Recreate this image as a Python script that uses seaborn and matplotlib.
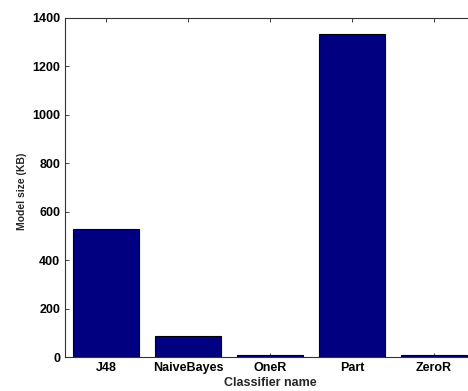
import matplotlib
matplotlib.use("Agg")
import matplotlib.pyplot as plt
import seaborn as sns
import pandas as pd

classifiers = ["J48", "NaiveBayes", "OneR", "Part", "ZeroR"]
model_size_kb = [527, 88, 10, 1335, 9]
y_ticks = [0, 200, 400, 600, 800, 1000, 1200, 1400]

sns.set_style("white")
plt.rcParams["font.family"] = ["Liberation Sans", "DejaVu Sans"]
plt.rcParams["font.weight"] = "bold"

df = pd.DataFrame({"Classifier": classifiers, "Size": model_size_kb})

fig = plt.figure(figsize=(4.68, 3.91), dpi=100)
ax = fig.add_axes([65 / 468, 1 - 357 / 391, 410 / 468, 339 / 391])

sns.barplot(data=df, x="Classifier", y="Size", ax=ax, color="#000080",
            saturation=1, width=0.8, edgecolor="black", linewidth=0.8)

ax.set_xlim(-0.5, 4.5)
ax.set_ylim(0, 1400)
ax.set_yticks(y_ticks)
ax.set_yticklabels([str(v) for v in y_ticks])

ax.tick_params(axis="both", direction="in", length=3, width=0.6,
               labelsize=9, colors="#222222", top=True, right=False, left=True, bottom=True)
for lbl in ax.get_xticklabels() + ax.get_yticklabels():
    lbl.set_fontweight("bold")
    lbl.set_color("black")

for side in ["left", "bottom", "top"]:
    ax.spines[side].set_visible(True)
    ax.spines[side].set_color("#333333")
    ax.spines[side].set_linewidth(0.8)
ax.spines["right"].set_visible(False)

ax.set_xlabel("Classifier name", fontsize=9, fontweight="bold")
ax.set_ylabel("Model size (KB)", fontsize=7.5, fontweight="bold")
ax.xaxis.set_label_coords((270 - 65) / 410, -(377 - 357) / 339)
ax.yaxis.set_label_coords(-(65 - 22) / 410, (357 - 191) / 339)
ax.yaxis.label.set_verticalalignment("center")

fig.savefig("out.png", dpi=100)
